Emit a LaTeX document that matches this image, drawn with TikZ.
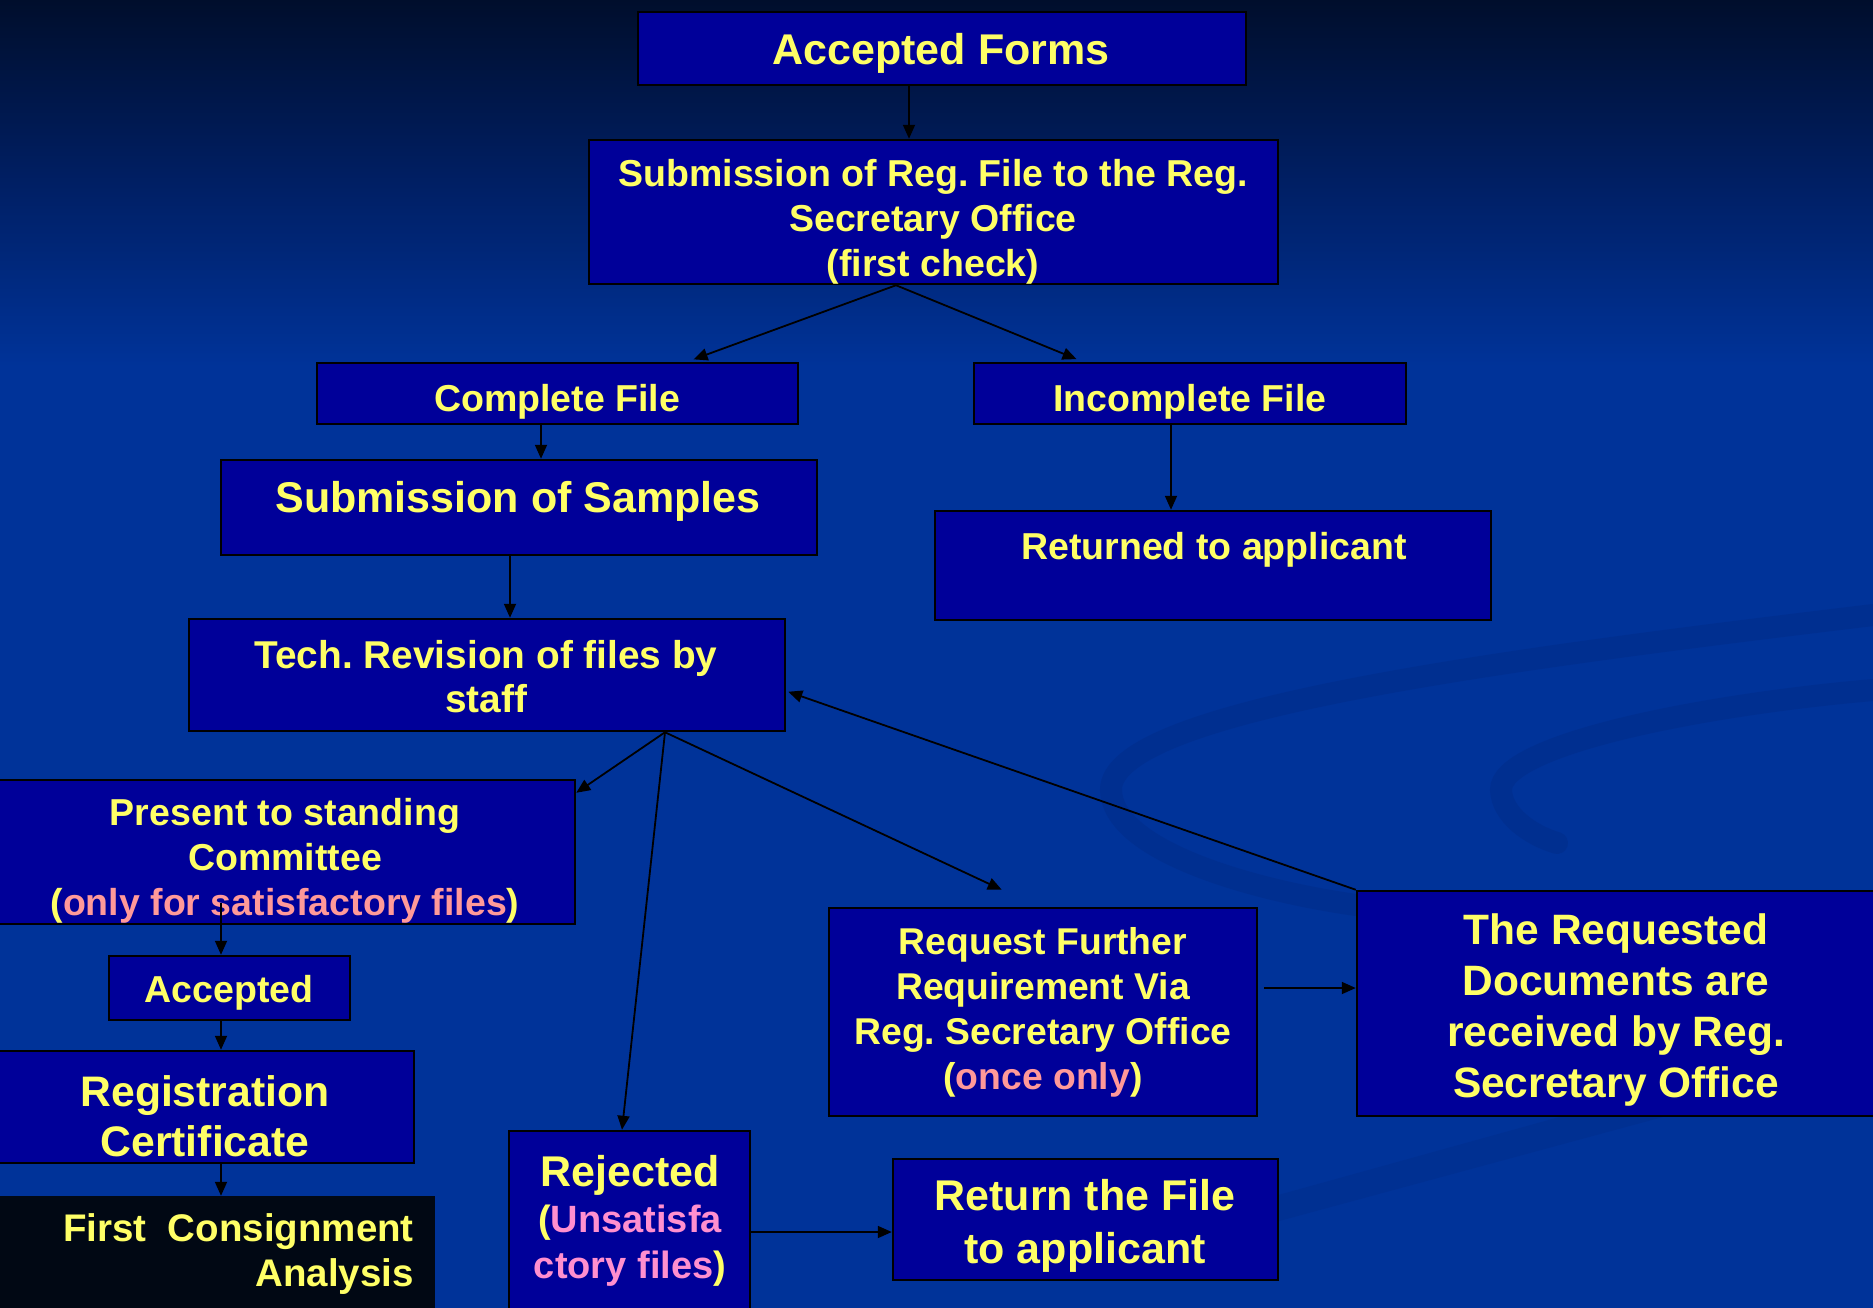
\documentclass[tikz,border=0pt]{standalone}
\usepackage{fontspec}
\setmainfont{Liberation Sans}
\usetikzlibrary{arrows.meta,calc}
\definecolor{boxblue}{HTML}{000099}
\definecolor{txtyel}{HTML}{FFFF66}
\definecolor{pinka}{HTML}{FF9999}
\definecolor{pinkb}{HTML}{FF8FCF}
\definecolor{bgtop}{HTML}{000E2C}
\definecolor{bgmid}{HTML}{001F64}
\definecolor{bgbot}{HTML}{003399}
\definecolor{swirlc}{HTML}{002C88}
\definecolor{firstbg}{HTML}{010814}
\pgfdeclareverticalshading{bgshade}{100bp}{color(0bp)=(bgbot); color(61bp)=(bgbot); color(68bp)=(bgmid); color(75bp)=(bgtop); color(100bp)=(bgtop)}
\tikzset{
  box/.style={rectangle, draw=black, line width=2.5pt, fill=boxblue, inner sep=0pt},
  arr/.style={draw=black, line width=1.8pt, -{Triangle[length=14pt,width=12pt]}},
  ytxt/.style={text=txtyel, align=center, inner sep=0pt},
  fa/.style={font=\fontsize{37.5}{45}\selectfont\bfseries\frenchspacing},
  fb/.style={font=\fontsize{43}{52}\selectfont\bfseries\frenchspacing},
}
\begin{document}
\begin{tikzpicture}[x=1pt,y=-1pt]
\useasboundingbox (0,0) rectangle (1873,1307);
\shade[shading=bgshade] (0,0) rectangle (1873,1307);
% faint swirls
\draw[swirlc, line width=22pt, opacity=0.5, line cap=round]
  (1873,615) .. controls (1500,660) and (1110,710) .. (1111,790)
  .. controls (1112,850) and (1250,890) .. (1356,905);
\draw[swirlc, line width=22pt, opacity=0.5, line cap=round]
  (1873,690) .. controls (1700,705) and (1500,745) .. (1501,790)
  .. controls (1502,815) and (1530,835) .. (1557,843);
\fill[swirlc, opacity=0.4] (1080,1250) -- (1873,1030) -- (1873,1060) -- (1080,1275) -- cycle;

% boxes
\node[box, minimum width=608, minimum height=73] (af) at (942,48.5) {};
\node[box, minimum width=689, minimum height=144] (sub) at (933.5,212) {};
\node[box, minimum width=481, minimum height=61] (cf) at (557.5,393.5) {};
\node[box, minimum width=432, minimum height=61] (icf) at (1190,393.5) {};
\node[box, minimum width=596, minimum height=95] (sam) at (519,507.5) {};
\node[box, minimum width=556, minimum height=109] (ret) at (1213,565.5) {};
\node[box, minimum width=596, minimum height=112] (tech) at (487,675) {};
\node[box, minimum width=578, minimum height=144] (pres) at (286,852) {};
\node[box, minimum width=241, minimum height=64] (acc) at (229.5,988) {};
\node[box, minimum width=417, minimum height=112] (reg) at (205.5,1107) {};
\node[rectangle, fill=firstbg, inner sep=0pt, minimum width=435, minimum height=114] (first) at (217.5,1253) {};
\node[box, minimum width=241, minimum height=184] (rej) at (629.5,1223) {};
\node[box, minimum width=385, minimum height=121] (rtn) at (1085.5,1219.5) {};
\node[box, minimum width=428, minimum height=208] (rq) at (1043,1012) {};
\node[box, minimum width=523, minimum height=225] (rd) at (1618.5,1003.5) {};

% texts
\node[ytxt, font=\fontsize{43}{52}\selectfont\bfseries] (taf) at (941,53) {Accepted Forms};
\node[ytxt, fa] (tsub) at (933,222) {Submission of Reg. File to the Reg.\\Secretary Office\\(first check)};
\node[ytxt, fa] (tcf) at (557,402) {Complete File};
\node[ytxt, fa] (ticf) at (1190,402) {Incomplete File};
\node[ytxt, fb] (tsam) at (518,501) {Submission of Samples};
\node[ytxt, fa] (tret) at (1214,550) {Returned to applicant};
\node[ytxt, font=\fontsize{38.8}{44}\selectfont\bfseries\frenchspacing] (ttech) at (486,676.5) {Tech. Revision of files by\\staff};
\node[ytxt, fa] (tpres) at (285,861) {Present to standing\\Committee\\(\textcolor{pinka}{only for satisfactory files})};
\node[ytxt, fa] (tacc) at (229,993) {Accepted};
\node[ytxt, font=\fontsize{42.7}{50}\selectfont\bfseries] (treg) at (205,1116) {Registration\\Certificate};
\node[ytxt, align=right, anchor=east, font=\fontsize{38.5}{45}\selectfont\bfseries] (tfirst) at (414,1254) {First~~Consignment\\Analysis};
\node[ytxt, font=\fontsize{38}{46}\selectfont\bfseries] (trej) at (630,1221) {{\fontsize{43}{46}\selectfont Rejected}\\(\textcolor{pinkb}{Unsatisfa}\\\textcolor{pinkb}{ctory files})};
\node[ytxt, font=\fontsize{43}{52.6}\selectfont\bfseries] (trtn) at (1085,1226) {Return the File\\to applicant};
\node[ytxt, font=\fontsize{37.3}{45}\selectfont\bfseries\frenchspacing] (trq) at (1043,1012) {Request Further\\Requirement Via\\Reg. Secretary Office\\(\textcolor{pinka}{once only})};
\node[ytxt, font=\fontsize{42.5}{51}\selectfont\bfseries\frenchspacing] (trd) at (1616,1010) {The Requested\\Documents are\\received by Reg.\\Secretary Office};

% connectors
\draw[arr] (af.south -| 909,0) -- (sub.north -| 909,0);
\coordinate (subout) at (sub.south -| 896,0);
\draw[arr, shorten >=7pt] (subout) -- (cf.north -| 687,0);
\draw[arr, shorten >=7pt] (subout) -- (icf.north -| 1083,0);
\draw[arr] (cf.south -| 541,0) -- (sam.north -| 541,0);
\draw[arr] (icf.south -| 1171,0) -- (ret.north -| 1171,0);
\draw[arr] (sam.south -| 510,0) -- (tech.north -| 510,0);
\coordinate (techout) at (tech.south -| 665,0);
\draw[arr] (techout) -- ($(pres.north east)+(0,14)$);
\draw[arr] (techout) -- (rej.north -| 622,0);
\draw[arr] (techout) -- ($(rq.north west)+(174,-17)$);
\draw[arr] (rd.north west) -- ($(tech.north east)+(2,74)$);
\draw[arr] ($(rq.east |- 0,988)+(6,0)$) -- (rd.west |- 0,988);
\draw[arr] ($(pres.south -| 221,0)+(0,-22)$) -- (acc.north -| 221,0);
\draw[arr] (acc.south -| 221,0) -- (reg.north -| 221,0);
\draw[arr] (reg.south -| 221,0) -- (first.north -| 221,0);
\draw[arr] (rej.east |- 0,1232) -- (rtn.west |- 0,1232);
\end{tikzpicture}
\end{document}
